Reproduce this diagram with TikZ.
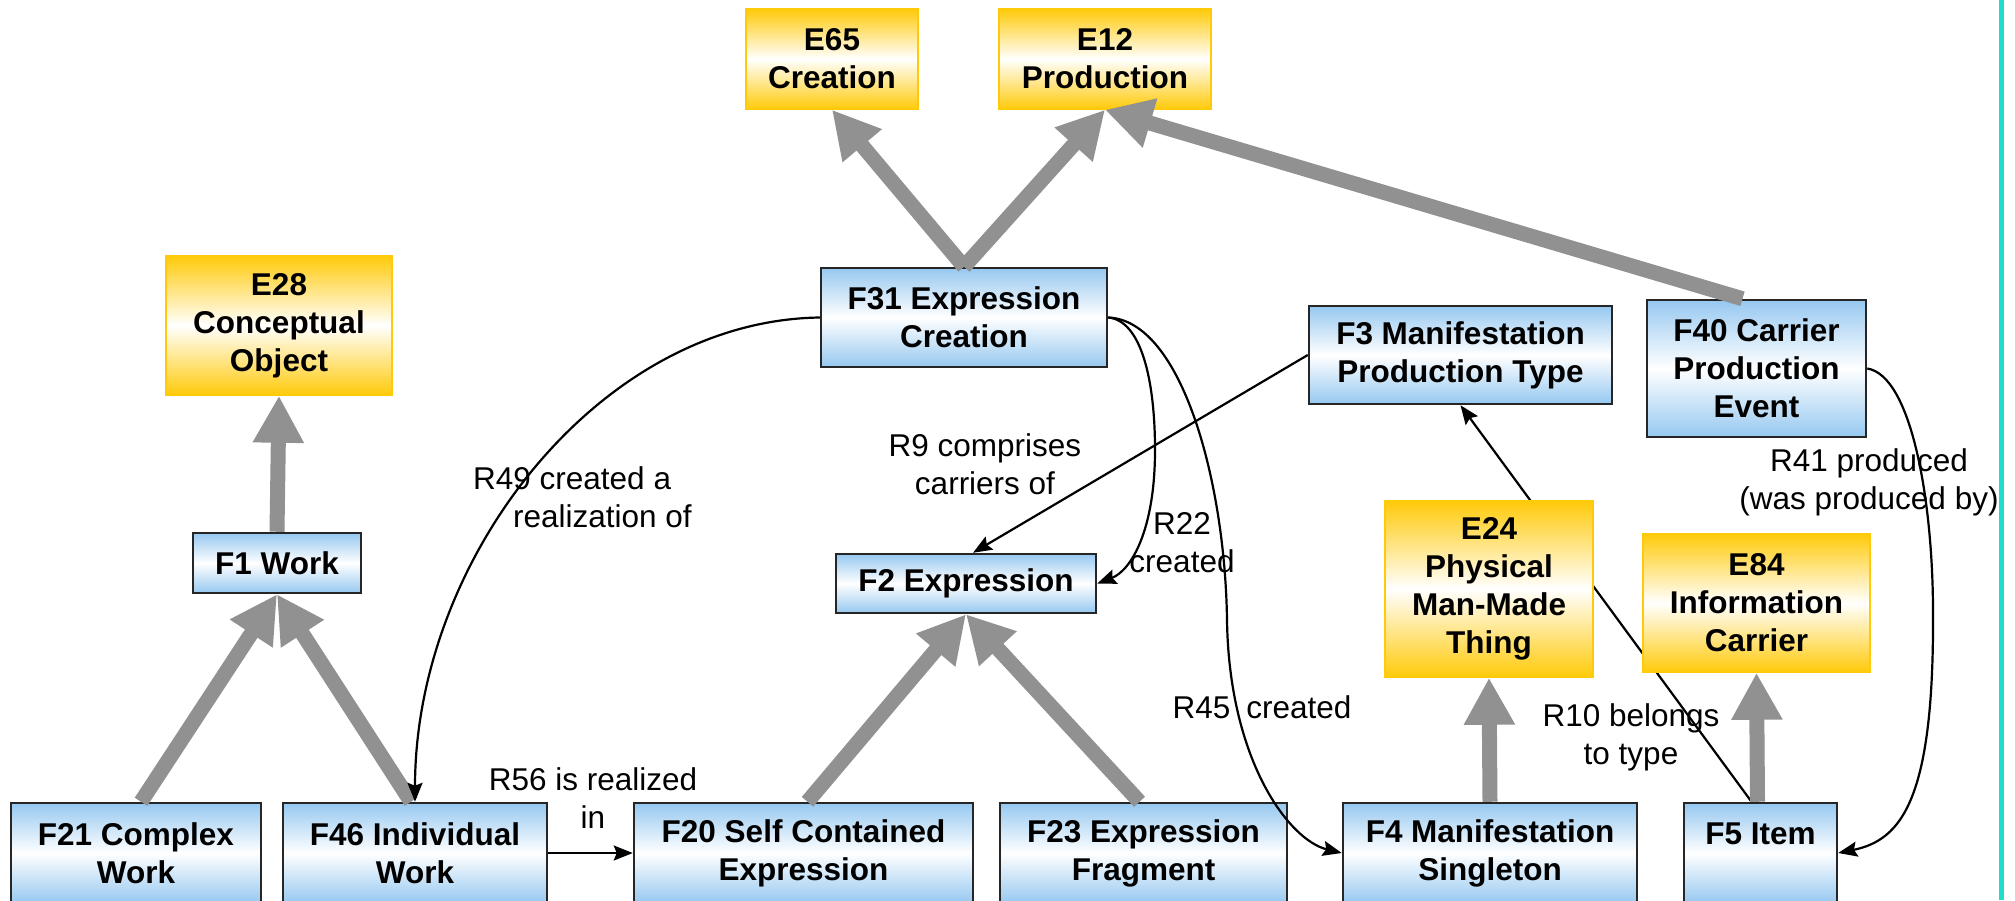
\documentclass[tikz,border=0pt]{standalone}
\usepackage{fontspec}
\setmainfont{Liberation Sans}
\usetikzlibrary{arrows.meta,calc}
\definecolor{boxblue}{RGB}{150,200,240}
\definecolor{boxgold}{RGB}{255,202,10}
\definecolor{isagray}{RGB}{145,145,145}
\definecolor{rulecyan}{RGB}{32,222,204}
\begin{document}
\begin{tikzpicture}[x=1pt,y=-1pt,
  cls/.style={rectangle, inner sep=0pt, align=center,
    font=\fontsize{31.5}{38}\selectfont\bfseries},
  fclass/.style={cls, draw=black!85, line width=2.5pt,
    top color=boxblue, bottom color=boxblue, middle color=white},
  eclass/.style={cls, draw=boxgold, line width=1.5pt,
    top color=boxgold, bottom color=boxgold, middle color=white},
  isa/.style={draw=isagray, line width=15pt, -{Triangle[length=47pt,width=48pt]}},
  rel/.style={draw=black, line width=2.2pt, -{Stealth[length=19pt,width=15pt,inset=3pt]}},
  lbl/.style={align=center, inner sep=0pt, font=\fontsize{31.5}{38}\selectfont},
]
\clip (0,0) rectangle (2015,900);
\fill[white] (0,0) rectangle (2015,900);
% right-hand rule
\fill[rulecyan] (1999,0) rectangle (2004,900);

% FRBR classes (blue) and CRM classes (gold)
\node[eclass, minimum width=172pt, minimum height=100pt] (E65) at (832,59) {E65\\Creation};
\node[eclass, minimum width=212pt, minimum height=100pt] (E12) at (1105,59) {E12\\Production};
\node[fclass, minimum width=286pt, minimum height=99pt] (F31) at (964,317.5) {F31 Expression\\Creation};
\node[eclass, minimum width=226pt, minimum height=139pt] (E28) at (279,325.5) {E28\\Conceptual\\Object};
\node[fclass, minimum width=168pt, minimum height=60pt] (F1) at (277,563) {F1 Work};
\node[fclass, minimum width=260pt, minimum height=59pt] (F2) at (966,583.5) {F2 Expression};
\node[fclass, minimum width=303pt, minimum height=98pt] (F3) at (1460.5,355) {F3 Manifestation\\Production Type};
\node[fclass, minimum width=219pt, minimum height=137pt] (F40) at (1756.5,368.5) {F40 Carrier\\Production\\Event};
\node[fclass, minimum width=250pt, minimum height=100pt] (F21) at (136,853) {F21 Complex\\Work};
\node[fclass, minimum width=264pt, minimum height=100pt] (F46) at (415,853) {F46 Individual\\Work};
\node[fclass, minimum width=339pt, minimum height=100pt] (F20) at (803.5,853) {F20 Self Contained\\Expression};
\node[fclass, minimum width=287pt, minimum height=100pt] (F23) at (1143.5,853) {F23 Expression\\Fragment};
\node[fclass, minimum width=294pt, minimum height=100pt] (F4) at (1490,853) {F4 Manifestation\\Singleton};
\node[fclass, minimum width=153pt, minimum height=100pt] (F5) at (1760.5,853) {F5 Item\\\phantom{I}};

% R10 runs behind the two gold boxes
\draw[rel] ($(F5.north)+(-9,0)$) -- (F3.south);

\node[eclass, minimum width=208pt, minimum height=176pt] (E24) at (1489,589) {E24\\Physical\\Man-Made\\Thing};
\node[eclass, minimum width=227pt, minimum height=138pt] (E84) at (1756.5,603) {E84\\Information\\Carrier};

% waypoints of the curved properties
\coordinate (r22a) at (1155,450);
\coordinate (r45a) at (1227,620);
\coordinate (r41a) at (1933,613);

% subclass links
\draw[isa] (F31.north) -- (E65.south);
\draw[isa] (F31.north) -- (E12.south);
\draw[isa] ($(F40.north)+(-14,0)$) -- (E12.south);
\draw[isa] (F1.north) -- (E28.south);
\draw[isa] ($(F21.north)+(5,0)$) -- (F1.south);
\draw[isa] ($(F46.north)+(-4,0)$) -- (F1.south);
\draw[isa] ($(F20.north)+(4,0)$) -- (F2.south);
\draw[isa] ($(F23.north)+(-4,0)$) -- (F2.south);
\draw[isa] (F4.north) -- (E24.south);
\draw[isa] ($(F5.north)+(-3,0)$) -- (E84.south);

% properties
\draw[rel] (F31.west) .. controls +(-221,3) and +(0,-243) .. (F46.north);
\draw[rel] (F31.east) .. controls +(33,3) and +(0,-70) .. (r22a)
  .. controls +(0,80) and +(34,-13) .. (F2.east);
\draw[rel] (F31.east) .. controls +(73,3) and +(-2,-140) .. (r45a)
  .. controls +(2,140) and +(-53,-13) .. (F4.west);
\draw[rel] (F40.east) .. controls +(44,7) and +(0,-113) .. (r41a)
  .. controls +(1,187) and +(63,-13) .. (F5.east);
\draw[rel] (F3.west) -- ($(F2.north)+(7,0)$);
\draw[rel] (F46.east) -- (F20.west);

% property labels
\node[lbl, align=left, anchor=west] (l49) at (473,497.5) {R49 created a\\\hspace*{40pt}realization of};
\node[lbl] (l9) at (985,464) {R9 comprises\\carriers of};
\node[lbl] (l22) at (1182,543) {R22\\created};
\node[lbl] (l45) at (1262,707) {R45\hspace{16pt}created};
\node[lbl] (l10) at (1631,737) {R10 belongs\\to type};
\node[lbl] (l41) at (1869,482) {R41 produced\\(was produced by)};
\node[lbl] (l56) at (593,798) {R56 is realized\\in};
\end{tikzpicture}
\end{document}
